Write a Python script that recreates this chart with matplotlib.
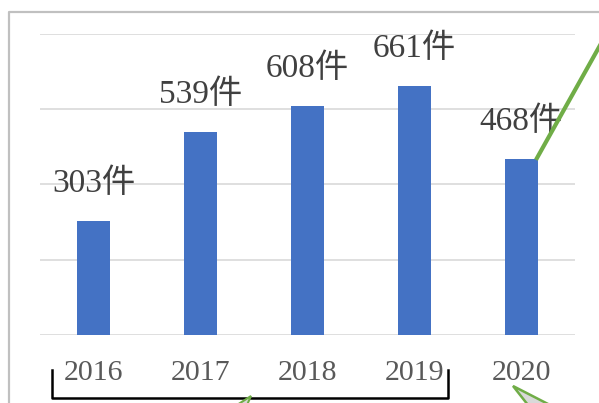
import matplotlib.pyplot as plt
from matplotlib.patches import Polygon
from matplotlib.lines import Line2D
import matplotlib.transforms as mtransforms

# ── Daten ────────────────────────────────────────────────────
years = ['2016', '2017', '2018', '2019', '2020']
counts = [303, 539, 608, 661, 468]
suffix = '件'

W, H = 599, 403
label_font = ['Liberation Serif', 'Noto Sans CJK JP', 'DejaVu Sans']

def px(x, y):
    # Pixel (oben links) -> Figure-Koordinaten
    return (x / W, 1 - y / H)

fig = plt.figure(figsize=(W / 100, H / 100), dpi=100)
ax = fig.add_axes([40 / W, (H - 335) / H, 535 / W, 301 / H])

pos = [i + 0.5 for i in range(len(years))]
ax.bar(pos, counts, width=0.31, color='#4472C4', zorder=3)

for x, v in zip(pos, counts):
    ax.annotate(f'{v}{suffix}', (x, v), xytext=(0, 27), textcoords='offset points',
                ha='center', va='center', fontsize=24, color='#404040',
                family=label_font)

ax.set_xlim(0, len(years))
ax.set_ylim(0, 800)
ax.set_yticks([0, 200, 400, 600, 800])
ax.set_yticklabels([])
ax.tick_params(axis='y', length=0)
ax.set_xticks(pos)
ax.set_xticklabels(years, fontsize=21.5, color='#595959', family=label_font)
ax.tick_params(axis='x', length=0, pad=18)
ax.yaxis.grid(True, color='#d9d9d9', linewidth=1.2, zorder=0)
for s in ax.spines.values():
    s.set_visible(False)

# Klammer unter 2016-2019
tr = mtransforms.blended_transform_factory(ax.transData, ax.transAxes)
bx0, bx1 = pos[0] - 0.39, pos[3] + 0.31
yb, yt = -0.209, -0.116
ax.add_line(Line2D([bx0, bx0, bx1, bx1], [yt, yb, yb, yt], transform=tr,
                   color='black', linewidth=1.8, clip_on=False,
                   solid_joinstyle='round'))

# Rahmen
fig.add_artist(Line2D([9 / W, 9 / W, 1], [0, 1 - 12 / H, 1 - 12 / H],
                      transform=fig.transFigure, color='#c0c0c0', linewidth=1.6))

# grüne Linien / Callout-Spitzen
green = '#70AD47'
(x0, y0), (x1, y1) = px(537, 158), px(603, 40)
fig.add_artist(Line2D([x0, x1], [y0, y1], transform=fig.transFigure,
                      color=green, linewidth=3))
fig.add_artist(Polygon([px(513, 386), px(550, 405), px(528, 405)], closed=True,
                       transform=fig.transFigure, facecolor='#d9d9d9',
                       edgecolor=green, linewidth=1.8))
fig.add_artist(Polygon([px(251, 396), px(237, 405), px(247, 405)], closed=True,
                       transform=fig.transFigure, facecolor='#d9d9d9',
                       edgecolor=green, linewidth=1.5))

plt.savefig('out.png', dpi=100)
